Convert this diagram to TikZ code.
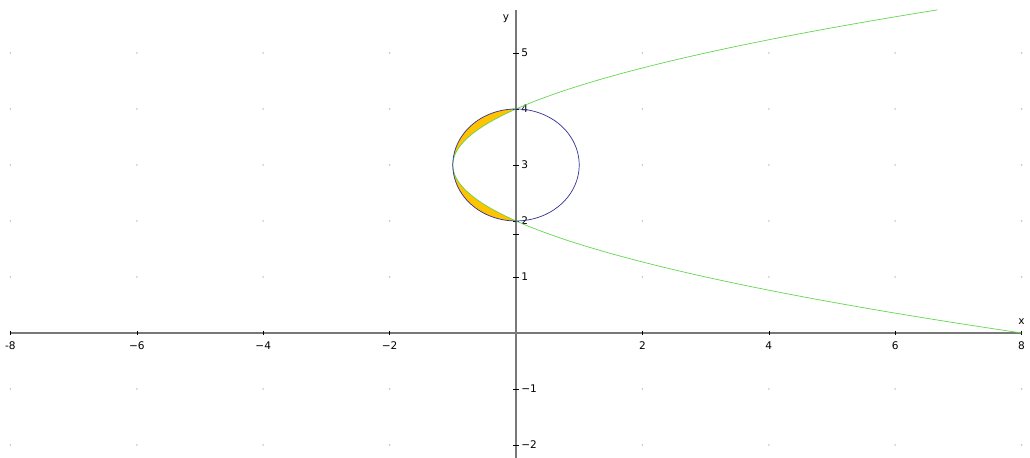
\documentclass[tikz,border=0pt]{standalone}
\usepackage{fontspec}
\setmainfont{DejaVu Sans}
\usepackage{tikz}
\usetikzlibrary{calc}

\definecolor{axisgray}{RGB}{120,120,120}
\definecolor{dotgray}{RGB}{200,200,200}
\definecolor{circblue}{RGB}{50,50,150}
\definecolor{parabgreen}{RGB}{100,215,80}
\definecolor{regionfill}{RGB}{255,195,0}

\begin{document}
\begin{tikzpicture}[x=1.896cm,y=1.68cm,
    lbl/.style={font=\fontsize{9}{10}\selectfont,inner sep=0pt}]

\useasboundingbox (-8.165,-2.232) rectangle (8.133,5.946);
\fill[white] (-8.165,-2.232) rectangle (8.133,5.946);

% Grid dots
\foreach \i in {-8,-6,...,8}
  \foreach \j in {-2,...,5}
    \fill[dotgray] (\i,\j) circle[radius=0.8pt];

% Region between circle and parabola
\fill[regionfill] plot[domain=90:270,samples=60] ({cos(\x)},{3+sin(\x)})
  -- plot[domain=2:4,samples=60] ({(\x-3)^2-1},\x) -- cycle;

% Axes
\coordinate (xl) at (-8,0);
\coordinate (xr) at (8,0);
\coordinate (yb) at (0,-2.232);
\coordinate (yt) at (0,5.77);
\draw[axisgray,line width=1pt] (xl) -- (xr);
\draw[axisgray,line width=1pt] (yb) -- (yt);

% Ticks and labels on x
\foreach \i/\t in {-8/-8,-6/−6,-4/−4,-2/−2,2/2,4/4,6/6,8/8}{
  \draw[black,line width=0.5pt] (\i,0.04) -- (\i,-0.04);
  \node[lbl,anchor=base] (xt\i) at (\i,-0.30) {\t};
}

% Ticks and labels on y
\foreach \j/\t in {-2/−2,-1/−1,1/1,2/2,3/3,4/4,5/5}{
  \draw[black,line width=0.5pt] (-0.04,\j) -- (0.04,\j);
  \node[lbl,anchor=base west] (yt\j) at (0.08,\j-0.07) {\t};
}
\draw[black,line width=0.5pt] (-0.04,1.77) -- (0.04,1.77);

% Axis names
\node[lbl] (xname) at (8.0,0.21) {x};
\node[lbl] (yname) at (-0.16,5.62) {y};

% Parabola
\draw[parabgreen,line width=0.6pt] plot[domain=0:5.77,samples=120] ({(\x-3)^2-1},\x);

% Circle
\draw[circblue,line width=0.6pt] plot[domain=0:360,samples=120] ({cos(\x)},{3+sin(\x)}) -- cycle;

\end{tikzpicture}
\end{document}
